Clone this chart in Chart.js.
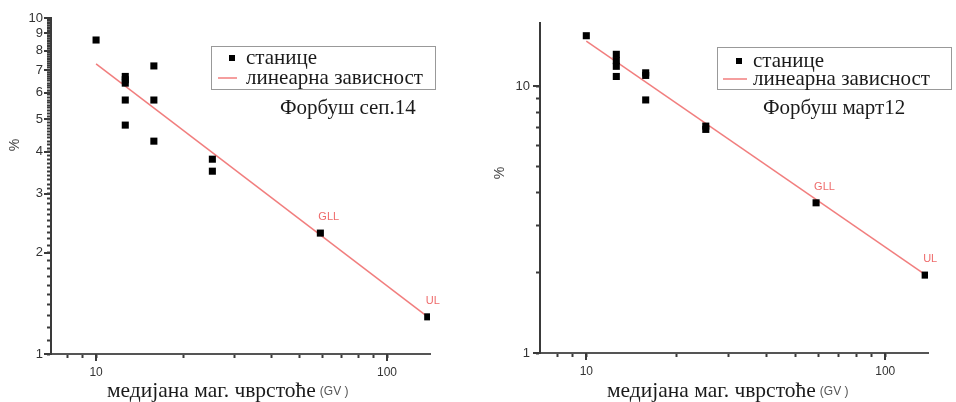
<!DOCTYPE html>
<html>
<head>
<meta charset="utf-8">
<script src="https://cdn.jsdelivr.net/npm/chart.js@4.4.0/dist/chart.umd.min.js"></script>
<style>
  body { margin: 0; background: #fff; }
  #wrap { position: relative; width: 956px; height: 402px; }
  canvas { position: absolute; top: 0; }
</style>
</head>
<body>
<div id="wrap">
  <canvas id="sep" width="480" height="402" style="left:0"></canvas>
  <canvas id="mar" width="476" height="402" style="left:480px"></canvas>
</div>
<script>
// Форбуш сеп.14 - станице
const sepRigidity = [10, 12.6, 12.6, 12.6, 12.6, 12.6, 15.8, 15.8, 15.8, 25.1, 25.1, 59, 138];
const sepDecrease = [8.6, 6.7, 6.55, 6.4, 5.7, 4.8, 7.2, 5.7, 4.3, 3.8, 3.5, 2.29, 1.29];
const sepTags     = ['', '', '', '', '', '', '', '', '', '', '', 'GLL', 'UL'];
const sepFitX = [10, 138];
const sepFitY = [7.3, 1.29];

// Форбуш март12 - станице
const marRigidity = [10, 12.6, 12.6, 12.6, 12.6, 15.8, 15.8, 15.8, 25.1, 25.1, 58.7, 136];
const marDecrease = [15.5, 13.2, 12.5, 11.9, 10.9, 11.25, 11.0, 8.9, 7.1, 6.9, 3.66, 1.96];
const marTags     = ['', '', '', '', '', '', '', '', '', '', 'GLL', 'UL'];
const marFitX = [10, 136];
const marFitY = [14.8, 1.97];

// tick values and labels
const xMinorTicks = [8, 9, 20, 30, 40, 50, 60, 70, 80, 90];
const xTickLabels = [10, 100];
const sepYTickLabels = [1, 2, 3, 4, 5, 6, 7, 8, 9, 10];
const marYMinorTicks = [2, 3, 4, 5, 6, 7, 8, 9];
const marYTickLabels = [1, 10];

const SERIF = '"Liberation Serif", "DejaVu Serif", serif';
const SANS = '"Liberation Sans", Arial, sans-serif';
const RED = 'rgba(240, 112, 112, 0.9)';
const AXIS = '#3a3a3a';

function tickList(labelled, minor) {
  const out = labelled.map(v => ({ value: v, major: true }));
  minor.forEach(v => {
    if (!labelled.some(l => Math.abs(l - v) < 1e-9)) out.push({ value: v, major: false });
  });
  return out.sort((a, b) => a.value - b.value);
}

// 0.1 steps between 1 and 10 on the September axis
const sepYMinorTicks = [];
for (let i = 11; i < 100; i++) sepYMinorTicks.push(i / 10);

const panelDecor = {
  id: 'panelDecor',
  afterDraw(chart, args, o) {
    const ctx = chart.ctx;
    const area = chart.chartArea;
    const xs = chart.scales.x, ys = chart.scales.y;
    ctx.save();

    // longer marks on the labelled ticks
    ctx.fillStyle = AXIS;
    xTickLabels.forEach(v => {
      const px = Math.round(xs.getPixelForValue(v));
      ctx.fillRect(px - 1, area.bottom, 2, 7);
    });
    o.yLabels.forEach(v => {
      const py = Math.round(ys.getPixelForValue(v));
      ctx.fillRect(area.left - 7, py - 1, 7, 2);
    });

    // y axis title
    ctx.fillStyle = '#444';
    ctx.font = '14px ' + SANS;
    ctx.textAlign = 'center';
    ctx.textBaseline = 'middle';
    ctx.translate(o.yTitle[0], o.yTitle[1]);
    ctx.rotate(-Math.PI / 2);
    ctx.fillText('%', 0, 0);
    ctx.setTransform(1, 0, 0, 1, 0, 0);

    // x axis title
    ctx.textAlign = 'left';
    ctx.fillStyle = '#1a1a1a';
    ctx.font = '21.5px ' + SERIF;
    const main = 'медијана маг. чврстоће';
    ctx.fillText(main, o.xTitle[0], o.xTitle[1]);
    const w = ctx.measureText(main).width;
    ctx.fillStyle = '#555';
    ctx.font = '12px ' + SANS;
    ctx.fillText('(GV )', o.xTitle[0] + w + 4, o.xTitle[1] + 1);

    // station tags next to points
    const pts = chart.getDatasetMeta(0).data;
    ctx.fillStyle = 'rgba(236, 90, 90, 0.9)';
    ctx.font = '11px ' + SANS;
    o.tags.forEach((tag, i) => {
      if (tag) ctx.fillText(tag, pts[i].x - 2, pts[i].y - 16);
    });

    // legend
    const b = o.legendBox;
    ctx.strokeStyle = '#999';
    ctx.lineWidth = 1;
    ctx.strokeRect(b[0] + 0.5, b[1] + 0.5, b[2], b[3]);
    ctx.fillStyle = '#000';
    ctx.fillRect(o.legendMarker[0] - 3, o.legendMarker[1] - 3, 6, 6);
    ctx.strokeStyle = RED;
    ctx.lineWidth = 1.5;
    ctx.beginPath();
    ctx.moveTo(o.legendLine[0], o.legendLine[2]);
    ctx.lineTo(o.legendLine[1], o.legendLine[2]);
    ctx.stroke();
    ctx.fillStyle = '#1a1a1a';
    ctx.font = '21px ' + SERIF;
    ctx.fillText(chart.data.datasets[0].label, o.legendText, o.legendMarker[1]);
    ctx.fillText(chart.data.datasets[1].label, o.legendText, o.legendLine[2]);

    // event title
    ctx.fillText(o.title, o.titlePos[0], o.titlePos[1]);
    ctx.restore();
  }
};

function makePanel(id, cfg) {
  const points = cfg.rigidity.map((r, i) => ({ x: r, y: cfg.decrease[i] }));
  const fit = cfg.fitX.map((r, i) => ({ x: r, y: cfg.fitY[i] }));
  const xTicks = tickList(xTickLabels, xMinorTicks);
  const yTicks = tickList(cfg.yLabels, cfg.yMinor);
  const tickGrid = {
    display: true,
    drawOnChartArea: false,
    drawTicks: true,
    tickLength: 4,
    tickWidth: 2,
    tickColor: AXIS,
    color: AXIS
  };

  return new Chart(document.getElementById(id), {
    type: 'scatter',
    data: {
      datasets: [
        {
          label: 'станице',
          data: points,
          pointStyle: 'rect',
          pointRadius: 5,
          pointBorderWidth: 0,
          backgroundColor: '#000',
          borderColor: '#000'
        },
        {
          label: 'линеарна зависност',
          data: fit,
          showLine: true,
          pointRadius: 0,
          borderColor: RED,
          borderWidth: 1.5
        }
      ]
    },
    options: {
      responsive: false,
      animation: false,
      events: [],
      layout: { padding: { top: cfg.area.top, right: cfg.area.right, left: 0, bottom: 0 } },
      plugins: {
        legend: { display: false },
        tooltip: { enabled: false },
        panelDecor: { ...cfg.decor, yLabels: cfg.yLabels }
      },
      scales: {
        x: {
          type: 'logarithmic',
          min: 7,
          max: cfg.xMax,
          afterBuildTicks: s => { s.ticks = xTicks.map(t => ({ ...t })); },
          afterFit: s => { s.height = cfg.area.bottom; },
          border: { color: '#555', width: 2 },
          grid: tickGrid,
          ticks: {
            autoSkip: false,
            maxRotation: 0,
            minRotation: 0,
            padding: 7,
            color: '#333',
            font: { family: SANS, size: 12 },
            callback: v => (xTickLabels.includes(v) ? String(v) : '')
          }
        },
        y: {
          type: 'logarithmic',
          min: 1,
          max: cfg.yMax,
          afterBuildTicks: s => { s.ticks = yTicks.map(t => ({ ...t })); },
          afterFit: s => { s.width = cfg.area.left; },
          border: { color: AXIS, width: 2 },
          grid: tickGrid,
          ticks: {
            autoSkip: false,
            padding: cfg.yPad,
            color: '#333',
            font: { family: SANS, size: 13 },
            callback: v => (cfg.yLabels.includes(v) ? String(v) : '')
          }
        }
      }
    },
    plugins: [panelDecor]
  });
}

makePanel('sep', {
  rigidity: sepRigidity,
  decrease: sepDecrease,
  fitX: sepFitX,
  fitY: sepFitY,
  yLabels: sepYTickLabels,
  yMinor: sepYMinorTicks,
  xMax: 140.5,
  yMax: 10,
  yPad: 4,
  area: { left: 51, top: 18, right: 50, bottom: 48 },
  decor: {
    tags: sepTags,
    yTitle: [15, 145],
    xTitle: [107, 391],
    legendBox: [211, 46, 224, 43],
    legendMarker: [232, 58],
    legendLine: [218, 237, 78],
    legendText: 246,
    title: 'Форбуш сеп.14',
    titlePos: [280, 108]
  }
});

makePanel('mar', {
  rigidity: marRigidity,
  decrease: marDecrease,
  fitX: marFitX,
  fitY: marFitY,
  yLabels: marYTickLabels,
  yMinor: marYMinorTicks,
  xMax: 139,
  yMax: 17.3,
  yPad: 6,
  area: { left: 60, top: 23, right: 28, bottom: 49 },
  decor: {
    tags: marTags,
    yTitle: [20, 173],
    xTitle: [127, 391],
    legendBox: [237, 47, 234, 42],
    legendMarker: [259, 61],
    legendLine: [243, 267, 79],
    legendText: 273,
    title: 'Форбуш март12',
    titlePos: [283, 108]
  }
});
</script>
</body>
</html>
